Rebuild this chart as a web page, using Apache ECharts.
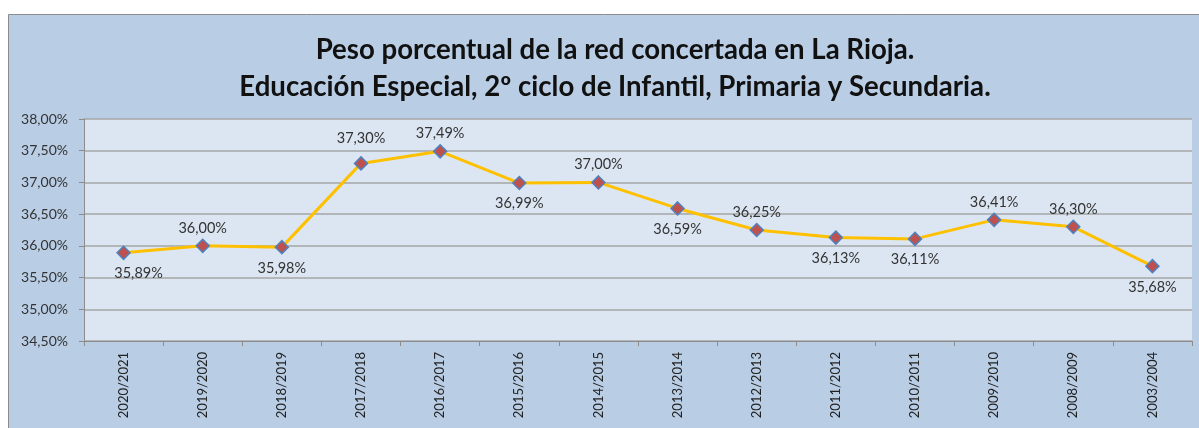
<!DOCTYPE html>
<html><head><meta charset="utf-8">
<script src="https://cdn.jsdelivr.net/npm/echarts@6/dist/echarts.min.js"></script>
<style>html,body{margin:0;padding:0;background:#fff}#c{width:1199px;height:428px}</style>
</head><body><div id="c"></div>
<script>
const categories = ["2020/2021","2019/2020","2018/2019","2017/2018","2016/2017","2015/2016","2014/2015","2013/2014","2012/2013","2011/2012","2010/2011","2009/2010","2008/2009","2003/2004"];
const values = [35.89,36.00,35.98,37.30,37.49,36.99,37.00,36.59,36.25,36.13,36.11,36.41,36.30,35.68];
const labelPos = ["bottom","top","bottom","top","top","bottom","top","bottom","top","bottom","bottom","top","top","bottom"];
const titleLines = ["Peso porcentual de la red concertada en La Rioja.","Educación Especial, 2º ciclo de Infantil, Primaria y Secundaria."];

const fmt = v => v.toFixed(2).replace('.', ',') + '%';
const chart = echarts.init(document.getElementById('c'));
chart.setOption({
  animation:false,
  backgroundColor:'#fff',
  graphic:[{type:'rect',z:-10,shape:{x:8.5,y:14.5,width:1220,height:440},style:{fill:'#b9cde5',stroke:'#8c8c8c',lineWidth:1}}],
  title:{text:titleLines.join('\n'),left:610,top:27,textAlign:'center',
    textStyle:{fontFamily:'Lato',fontWeight:'bold',fontSize:27.6,color:'#111',lineHeight:37}},
  grid:{left:84,right:7,top:119,bottom:87,show:true,backgroundColor:'#dce6f2',borderWidth:0},
  xAxis:{type:'category',data:categories,boundaryGap:true,
    axisLine:{lineStyle:{color:'#8c8c8c'}},
    axisTick:{show:true,length:5,lineStyle:{color:'#8c8c8c'}},
    axisLabel:{rotate:90,fontFamily:'Lato',fontSize:13,color:'#222',margin:11}},
  yAxis:{type:'value',min:34.5,max:38,interval:0.5,
    axisLine:{show:true,lineStyle:{color:'#8c8c8c'}},
    axisTick:{show:true,length:5,lineStyle:{color:'#8c8c8c'}},
    splitLine:{lineStyle:{color:'#a6a6a6',width:1.5}},
    axisLabel:{formatter:v=>fmt(v),fontFamily:'Lato',fontSize:14,color:'#333',margin:16}},
  series:[{type:'line',data:values.map((v,i)=>({value:v,label:{position:labelPos[i],distance:labelPos[i]==='top'?(i===3?10:3):6,offset:i===0?[15,0]:[0,0]}})),
    lineStyle:{color:'#ffc000',width:3},
    symbol:'diamond',symbolSize:13,
    itemStyle:{color:'#c0504d',borderColor:'#4f81bd',borderWidth:1.5},
    label:{show:true,formatter:p=>fmt(p.value),fontFamily:'Lato',fontSize:14.5,color:'#333'}}]
});
</script></body></html>
